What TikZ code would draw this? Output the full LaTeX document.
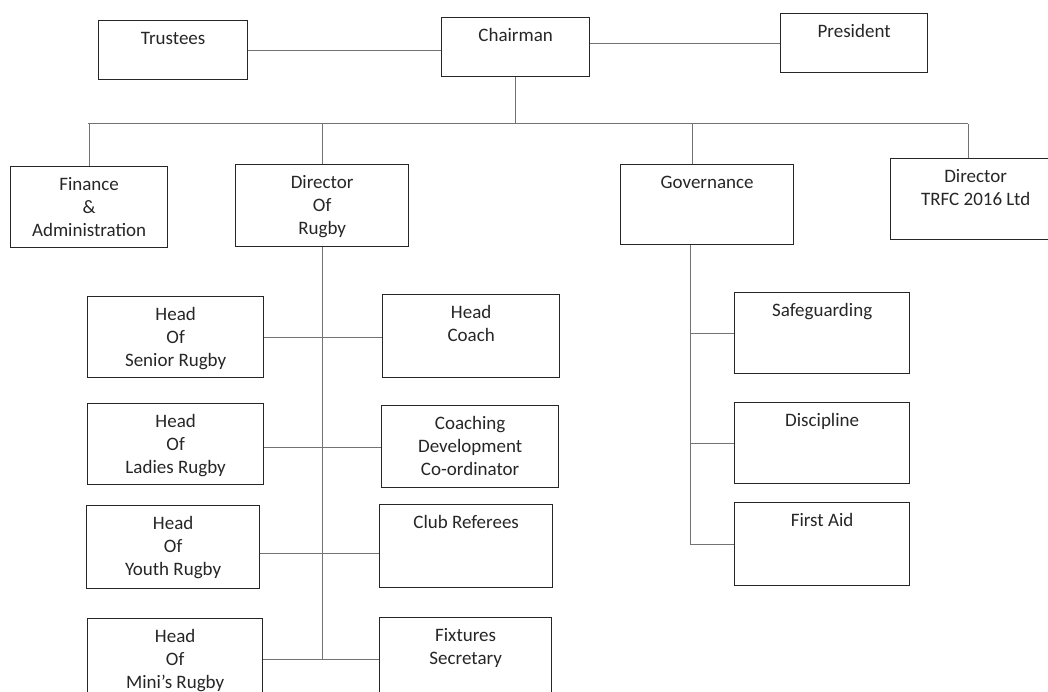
\documentclass[tikz,border=0pt]{standalone}
\usepackage{fontspec}
\setmainfont{Carlito}
\newcommand{\cell}[3]{\parbox[t][#2pt][t]{#1pt}{\centering\vspace*{8pt}\strut#3}}
\tikzset{
  unit/.style={draw=black!85, line width=1.3pt, inner sep=0pt, anchor=north west, text=black!85},
  link/.style={draw=black!55, line width=1pt}
}
\begin{document}
\begin{tikzpicture}[x=1pt,y=-1pt,font=\fontsize{19}{23}\selectfont]
  \useasboundingbox (0,0) rectangle (1048,692);
  \node[unit] (trustees) at (98,20) {\cell{149}{59}{Trustees}};
  \node[unit] (chairman) at (441,17) {\cell{148}{59}{Chairman}};
  \node[unit] (president) at (780,13) {\cell{147}{59}{President}};
  \node[unit] (finance) at (10,166) {\cell{157}{81}{Finance\\\&\\Administration}};
  \node[unit] (dor) at (235,164) {\cell{173}{82}{Director\\Of\\Rugby}};
  \node[unit] (governance) at (620,164) {\cell{173}{80}{Governance}};
  \node[unit] (trfc) at (890,158) {\cell{170}{81}{Director\\TRFC 2016 Ltd}};
  \node[unit] (senior) at (87,296) {\cell{176}{81}{Head\\Of\\Senior Rugby}};
  \node[unit] (ladies) at (87,403) {\cell{176}{81}{Head\\Of\\Ladies Rugby}};
  \node[unit] (youth) at (86,505) {\cell{173}{83}{Head\\Of\\Youth Rugby}};
  \node[unit] (minis) at (87,618) {\cell{175}{82}{Head\\Of\\Mini’s Rugby}};
  \node[unit] (headcoach) at (382,294) {\cell{177}{83}{Head\\Coach}};
  \node[unit] (codev) at (381,405) {\cell{177}{82}{Coaching\\Development\\Co-ordinator}};
  \node[unit] (referees) at (379,504) {\cell{173}{83}{Club Referees}};
  \node[unit] (fixtures) at (379,617) {\cell{172}{82}{Fixtures\\Secretary}};
  \node[unit] (safeguarding) at (734,292) {\cell{175}{81}{Safeguarding}};
  \node[unit] (discipline) at (734,402) {\cell{175}{81}{Discipline}};
  \node[unit] (firstaid) at (734,502) {\cell{175}{83}{First Aid}};

  \coordinate (busL) at (88,124);
  \coordinate (busR) at (968,124);
  \coordinate (govtop) at (692,124);
  \coordinate (govfoot) at ([xshift=-17pt]governance.south);

  \draw[link] (trustees.east) -- (trustees.east -| chairman.west);
  \draw[link] (president.west) -- (president.west -| chairman.east);
  \draw[link] (chairman.south) -- (chairman.south |- busL);
  \draw[link] (busL) -- (busR);
  \draw[link] (finance.north) -- (finance.north |- busL);
  \draw[link] (dor.north) -- (dor.north |- busL);
  \draw[link] (govtop) -- (govtop |- governance.north);
  \draw[link] (busR) -- (busR |- trfc.north);

  \draw[link] (dor.south) -- (dor.south |- minis.east);
  \draw[link] (senior.east) -- (senior.east -| headcoach.west);
  \draw[link] ([yshift=-3pt]ladies.east) -- ([yshift=-3pt]ladies.east -| codev.west);
  \draw[link] ([yshift=-6pt]youth.east) -- ([yshift=-6pt]youth.east -| referees.west);
  \draw[link] (minis.east) -- (minis.east -| fixtures.west);

  \draw[link] (govfoot) -- (govfoot |- firstaid.west) -- (firstaid.west);
  \draw[link] (safeguarding.west) -- (safeguarding.west -| govfoot);
  \draw[link] (discipline.west) -- (discipline.west -| govfoot);
\end{tikzpicture}
\end{document}
